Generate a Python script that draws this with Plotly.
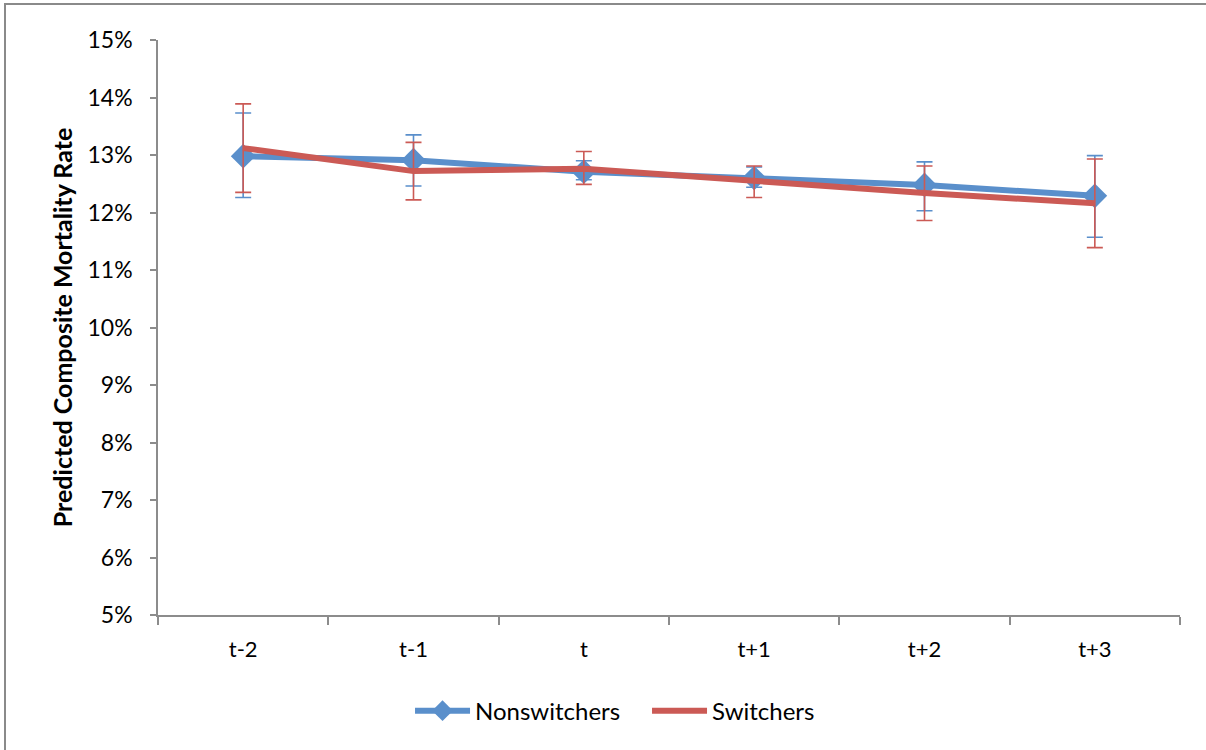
import plotly.graph_objects as go

periods = ["t-2", "t-1", "t", "t+1", "t+2", "t+3"]

non_val = [0.1298, 0.1291, 0.1271, 0.1260, 0.1248, 0.1229]
non_hi = [0.1373, 0.1335, 0.1290, 0.1279, 0.1288, 0.1299]
non_lo = [0.1226, 0.1246, 0.1257, 0.1244, 0.1203, 0.1157]

sw_val = [0.1312, 0.1272, 0.1276, 0.1254, 0.1234, 0.1216]
sw_hi = [0.1389, 0.1322, 0.1306, 0.1281, 0.1281, 0.1293]
sw_lo = [0.1235, 0.1222, 0.1249, 0.1226, 0.1186, 0.1139]

blue = "#5A8FCB"
red = "#CB5A55"
font_family = "Lato, Carlito, Calibri, 'Open Sans', sans-serif"

fig = go.Figure()
fig.add_trace(go.Scatter(
    x=periods, y=non_val, name="Nonswitchers", mode="lines+markers",
    line=dict(color=blue, width=6),
    marker=dict(symbol="diamond", size=19, color=blue),
    error_y=dict(type="data", symmetric=False,
                 array=[h - v for h, v in zip(non_hi, non_val)],
                 arrayminus=[v - l for v, l in zip(non_val, non_lo)],
                 color=blue, thickness=1.6, width=8),
))
fig.add_trace(go.Scatter(
    x=periods, y=sw_val, name="Switchers", mode="lines",
    line=dict(color=red, width=6),
    error_y=dict(type="data", symmetric=False,
                 array=[h - v for h, v in zip(sw_hi, sw_val)],
                 arrayminus=[v - l for v, l in zip(sw_val, sw_lo)],
                 color=red, thickness=1.6, width=8),
))

axis_col = "#8C8C8C"
fig.update_layout(
    width=1206, height=750,
    margin=dict(l=158, r=26, t=40, b=135),
    paper_bgcolor="white", plot_bgcolor="white",
    font=dict(family=font_family, size=22, color="black"),
    showlegend=True,
    legend=dict(orientation="h", x=0.2466, xanchor="left", y=-0.167, yanchor="middle",
                font=dict(size=24), itemwidth=55, entrywidth=167,
                traceorder="normal"),
    xaxis=dict(type="category", range=[-0.5, 5.5], showgrid=False,
               showline=True, linecolor=axis_col, linewidth=1.5,
               ticks="outside", tickson="boundaries", ticklen=8,
               tickcolor=axis_col, tickwidth=1.5, tickfont=dict(size=22),
               ticklabelstandoff=14),
    yaxis=dict(range=[0.05, 0.15], dtick=0.01, tickformat=".0%", showgrid=False,
               showline=True, linecolor=axis_col, linewidth=1.5,
               ticks="outside", ticklen=6, tickcolor=axis_col, tickwidth=1.5,
               tickfont=dict(size=23), zeroline=False, ticklabelstandoff=13,
               title=dict(text="<b>Predicted Composite Mortality Rate</b>",
                          font=dict(size=25), standoff=8)),
    shapes=[dict(type="path", xref="paper", yref="paper",
                 path="M -0.1497,-0.4 L -0.1497,1.0626 L 1.6,1.0626",
                 line=dict(color="#8A8A8A", width=2), layer="below")],
)

fig.write_html("out.html", config={"displayModeBar": False},
               post_script="document.body.style.margin='0';"
                           "document.body.style.overflow='hidden';"
                           "document.documentElement.style.overflow='hidden';")
